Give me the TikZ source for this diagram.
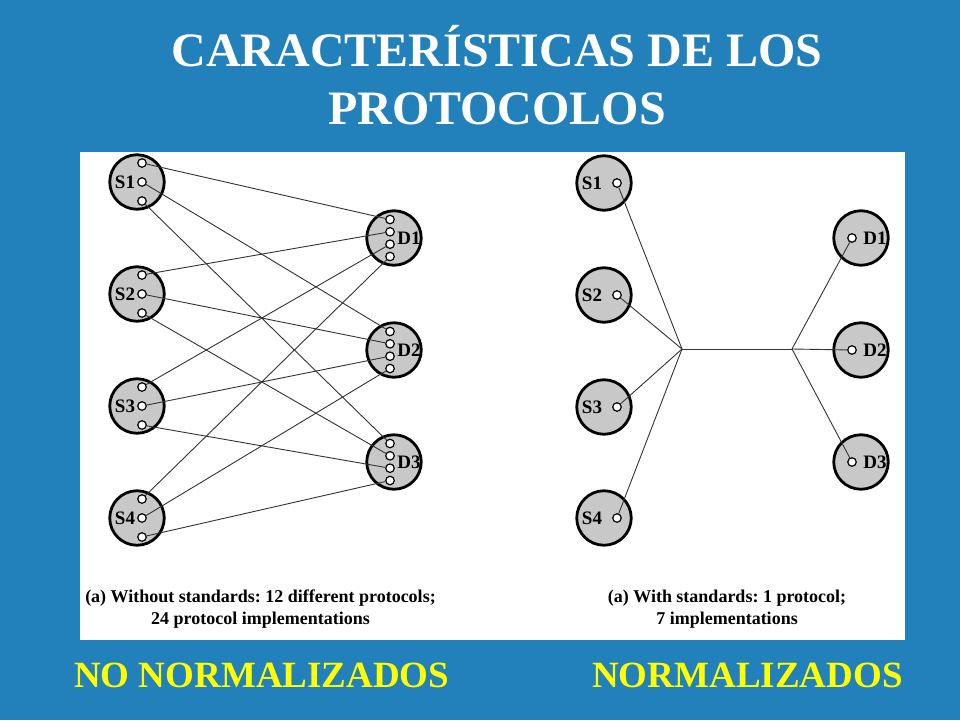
\documentclass[tikz,border=0pt]{standalone}
\usepackage{fontspec}
\setmainfont{Liberation Serif}
\frenchspacing
\definecolor{bgblue}{RGB}{34,128,186}
\definecolor{circgray}{RGB}{200,200,200}
\definecolor{ttlyellow}{RGB}{255,255,0}
\begin{document}
\begin{tikzpicture}[x=1pt,y=-1pt,
 hostc/.style={circle,draw=black,line width=2.8pt,fill=circgray,minimum size=54.5pt,inner sep=0pt},
 portc/.style={circle,draw=black,line width=1.2pt,fill=white,minimum size=8.5pt,inner sep=0pt},
 lbl/.style={font=\fontsize{19}{19}\selectfont\bfseries,inner sep=0pt,text=black},
 link/.style={draw=black!80,line width=0.9pt},
 capt/.style={font=\fontsize{18}{22}\selectfont\bfseries,inner sep=0pt,anchor=base,text=black},
 ttl/.style={font=\fontsize{48}{57}\selectfont\bfseries,inner sep=0pt,anchor=base,text=white},
 foot/.style={font=\fontsize{37}{40}\selectfont\bfseries,inner sep=0pt,anchor=base west,text=ttlyellow}]
\useasboundingbox (0,0) rectangle (960,720);
\fill[bgblue] (0,0) rectangle (960,720);
\fill[white] (80,152) rectangle (904.5,640);
% title
\node[ttl] (t1) at (497,66.7) {CARACTERÍSTICAS DE LOS};
\node[ttl] (t2) at (497,124) {PROTOCOLOS};
% ---------- left diagram ----------
\foreach \i/\y in {1/182,2/294,3/406,4/518}{
  \node[hostc] (LS\i) at (137,\y) {};
  \node[lbl] (LS\i t) at (125,\y+0.5) {S\i};
  \node[portc] (LS\i p1) at (142,\y-19) {};
  \node[portc] (LS\i p2) at (142,\y) {};
  \node[portc] (LS\i p3) at (142,\y+19) {};
}
\foreach \j/\y in {1/238,2/350,3/462}{
  \node[hostc] (LD\j) at (394,\y) {};
  \node[lbl] (LD\j t) at (409,\y+0.5) {D\j};
  \node[portc] (LD\j p1) at (390,\y-18.5) {};
  \node[portc] (LD\j p2) at (390,\y-6.2) {};
  \node[portc] (LD\j p3) at (390,\y+6.2) {};
  \node[portc] (LD\j p4) at (390,\y+18.5) {};
}
\foreach \i in {1,2,3,4}{
  \foreach \j in {1,2,3}{
    \draw[link] (LS\i p\j) -- (LD\j p\i);
  }
}
% ---------- right diagram ----------
\coordinate (hubL) at (682,349);
\coordinate (hubR) at (792,349);
\foreach \i/\y in {1/183,2/295,3/407,4/518}{
  \node[hostc] (RS\i) at (604,\y) {};
  \node[lbl] (RS\i t) at (592,\y+0.5) {S\i};
  \node[portc] (RS\i p) at (617,\y) {};
  \draw[link] (RS\i p) -- (hubL);
}
\foreach \j/\y in {1/238,2/350,3/462}{
  \node[hostc] (RD\j) at (861,\y) {};
  \node[lbl] (RD\j t) at (875,\y+0.5) {D\j};
  \node[portc] (RD\j p) at (852,\y) {};
  \draw[link] (hubR) -- (RD\j p);
}
\draw[link] (hubL) -- (hubR);
% captions
\node[capt] (cl1) at (260.5,602) {(a) Without standards: 12 different protocols;};
\node[capt] (cl2) at (260.5,624) {24 protocol implementations};
\node[capt] (cr1) at (727,602) {(a) With standards: 1 protocol;};
\node[capt] (cr2) at (727,624) {7 implementations};
% footer
\node[foot] (f1) at (74,687.3) {NO NORMALIZADOS};
\node[foot] (f2) at (592,687.3) {NORMALIZADOS};
\end{tikzpicture}
\end{document}
